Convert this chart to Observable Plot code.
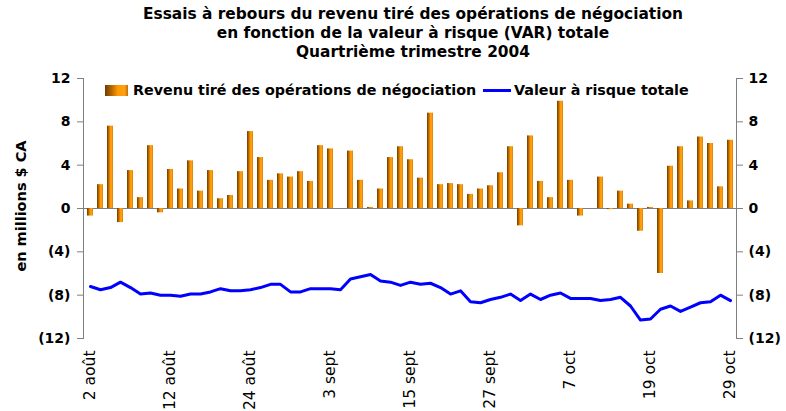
<!DOCTYPE html>
<html>
<head>
<meta charset="utf-8">
<script src="https://cdn.jsdelivr.net/npm/d3@7"></script>
<script src="https://cdn.jsdelivr.net/npm/@observablehq/plot@0.6"></script>
<style>
  body { margin: 0; background: #fff; }
  #wrap { position: relative; width: 786px; height: 411px; overflow: hidden; font-family: "DejaVu Sans", Verdana, sans-serif; }
  #title { height: 62px; box-sizing: border-box; padding: 5px 0 0 40px; text-align: center; font-weight: bold; font-size: 15.4px; line-height: 19px; color: #000; }
  .legend { position: absolute; top: 82px; height: 16px; display: flex; align-items: center; font-weight: bold; font-size: 14.3px; color: #000; white-space: nowrap; }
  .swatch-bar { width: 23px; height: 11px; margin-right: 5px; background: linear-gradient(to right, #6e3c00 0%, #b86a00 30%, #ff9900 55%, #ff9f1a 85%, #c07000 100%); }
  .swatch-line { width: 28px; height: 3px; background: #0000ff; margin-right: 3px; }
  #ytitle { position: absolute; left: 21px; top: 206px; transform: translate(-50%, -50%) rotate(-90deg); font-weight: bold; font-size: 14.5px; white-space: nowrap; }
</style>
</head>
<body>
<div id="wrap">
  <div id="title">Essais à rebours du revenu tiré des opérations de négociation<br>en fonction de la valeur à risque (VAR) totale<br>Quartrième trimestre 2004</div>
  <div id="chart"></div>
  <div class="legend" style="left:105px"><div class="swatch-bar"></div>Revenu tiré des opérations de négociation</div>
  <div class="legend" style="left:483px"><div class="swatch-line"></div>Valeur à risque totale</div>
  <div id="ytitle">en millions $ CA</div>
</div>
<script>
// Trading days, 2 Aug – 29 Oct 2004 (every weekday, holidays included as empty slots)
const fmt = d3.utcFormat("%Y-%m-%d");
const days = d3.utcDays(new Date("2004-08-02"), new Date("2004-10-30"))
  .filter(d => d.getUTCDay() !== 0 && d.getUTCDay() !== 6)
  .map(fmt);

// Daily trading revenue (millions $ CA); null = market holiday
const revenue = [
  -0.7, 2.2, 7.6, -1.3, 3.5, 1.0, 5.8, -0.4, 3.6, 1.8,
   4.4, 1.6, 3.5, 0.9, 1.2, 3.4, 7.1, 4.7, 2.6, 3.2,
   2.9, 3.4, 2.5, 5.8, 5.5, null, 5.3, 2.6, 0.1, 1.8,
   4.7, 5.7, 4.5, 2.8, 8.8, 2.2, 2.3, 2.2, 1.3, 1.8,
   2.1, 3.3, 5.7, -1.6, 6.7, 2.5, 1.0, 9.9, 2.6, -0.7,
   null, 2.9, -0.1, 1.6, 0.4, -2.1, 0.1, -6.0, 3.9, 5.7,
   0.7, 6.6, 6.0, 2.0, 6.3
];

// Total value at risk (millions $ CA)
const totalVar = [
  -7.2, -7.5, -7.3, -6.8, -7.3, -7.9, -7.8, -8.0, -8.0, -8.1,
  -7.9, -7.9, -7.7, -7.4, -7.6, -7.6, -7.5, -7.3, -7.0, -7.0,
  -7.7, -7.7, -7.4, -7.4, -7.4, -7.5, -6.5, -6.3, -6.1, -6.7,
  -6.8, -7.1, -6.8, -7.0, -6.9, -7.3, -7.9, -7.6, -8.6, -8.7,
  -8.4, -8.2, -7.9, -8.5, -7.9, -8.4, -8.0, -7.8, -8.3, -8.3,
  -8.3, -8.5, -8.4, -8.2, -9.0, -10.3, -10.2, -9.3, -9.0, -9.5,
  -9.1, -8.7, -8.6, -8.0, -8.5
];

// Date axis labels
const tickDays = ["2004-08-02", "2004-08-12", "2004-08-24", "2004-09-03", "2004-09-15", "2004-09-27", "2004-10-07", "2004-10-19", "2004-10-29"];
const tickLabels = ["2 août", "12 août", "24 août", "3 sept", "15 sept", "27 sept", "7 oct", "19 oct", "29 oct"];
const yTicks = [-12, -8, -4, 0, 4, 8, 12];

const rows = days.map((day, i) => ({day, revenue: revenue[i], risk: totalVar[i]}));
const labelOf = new Map(tickDays.map((d, i) => [d, tickLabels[i]]));
const yFormat = v => v < 0 ? `(${-v})` : `${v}`;

const plot = Plot.plot({
  width: 786,
  height: 349,
  marginTop: 16,
  marginBottom: 73,
  marginLeft: 83,
  marginRight: 50,
  style: {fontFamily: "DejaVu Sans, Verdana, sans-serif", background: "#fff", color: "#000"},
  x: {type: "band", domain: days, paddingInner: 0.4, paddingOuter: 0.2},
  y: {domain: [-12, 12]},
  marks: [
    Plot.ruleY([0], {stroke: "#808080", strokeWidth: 1}),
    Plot.barY(rows, {x: "day", y: "revenue", fill: "url(#barShade)"}),
    Plot.lineY(rows, {x: "day", y: "risk", stroke: "#0000ff", strokeWidth: 3, strokeLinejoin: "round"}),
    Plot.frame({anchor: "left", stroke: "#808080"}),
    Plot.frame({anchor: "right", stroke: "#808080"}),
    Plot.axisY({anchor: "left", ticks: yTicks, tickFormat: yFormat, tickSize: 6, tickPadding: 7,
      stroke: "#808080", fill: "#000", fontSize: 14, fontWeight: "bold", label: null}),
    Plot.axisY({anchor: "right", ticks: yTicks, tickFormat: yFormat, tickSize: 6, tickPadding: 6,
      stroke: "#808080", fill: "#000", fontSize: 14, fontWeight: "bold", label: null}),
    Plot.axisX({ticks: tickDays, tickFormat: d => labelOf.get(d), tickRotate: -90, tickSize: 0, tickPadding: 12,
      fontSize: 15.5, fontFamily: "DejaVu Sans, Verdana, sans-serif", fill: "#000", label: null})
  ]
});

// Cylinder-like shading for the revenue bars
const defs = d3.select(plot).insert("defs", ":first-child");
const grad = defs.append("linearGradient").attr("id", "barShade")
  .attr("x1", 0).attr("x2", 1).attr("y1", 0).attr("y2", 0);
[[0, "#6e3c00"], [0.3, "#b86a00"], [0.55, "#ff9900"], [0.85, "#ff9f1a"], [1, "#c07000"]]
  .forEach(([o, c]) => grad.append("stop").attr("offset", o).attr("stop-color", c));

document.getElementById("chart").append(plot);
</script>
</body>
</html>
